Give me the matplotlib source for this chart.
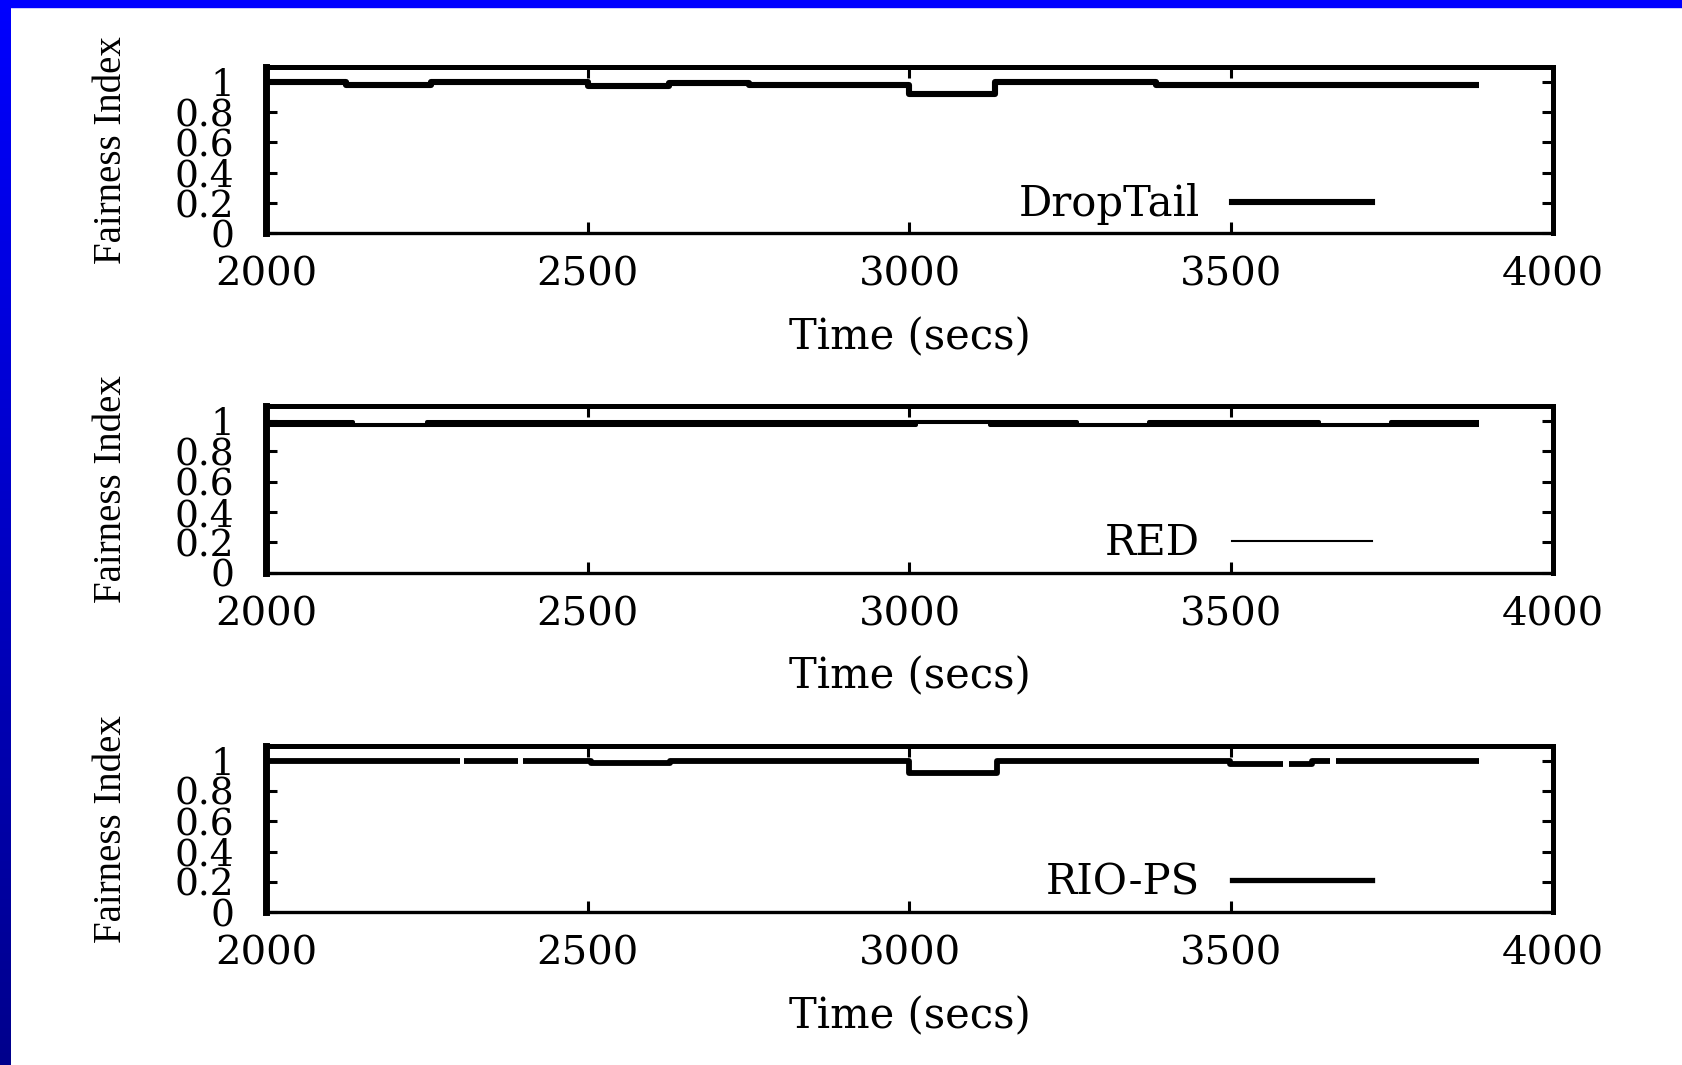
"""Fairness index over time for DropTail, RED and RIO-PS (three stacked panels)."""
import matplotlib

matplotlib.use("Agg")
import matplotlib.pyplot as plt
import numpy as np
from matplotlib.colors import LinearSegmentedColormap
from matplotlib.lines import Line2D
from matplotlib.patches import Rectangle

TIME_TICKS = [2000, 2500, 3000, 3500, 4000]
FAIR_TICKS = [0, 0.2, 0.4, 0.6, 0.8, 1]
FAIR_LABELS = ["0", "0.2", "0.4", "0.6", "0.8", "1"]

# step series: value i holds from edge i to edge i+1
DT_EDGES = [2000, 2125, 2257, 2500, 2627, 2750, 3000, 3133, 3383, 3885]
DT_VALS = [1.0, 0.98, 1.0, 0.975, 0.995, 0.982, 0.917, 1.0, 0.977]

# RED wobbles inside a narrow band -> low / high envelope
RED_EDGES = [2000, 2135, 2250, 3010, 3125, 3260, 3372, 3636, 3748, 3885]
RED_LO = [0.972, 0.973, 0.972, 0.997, 0.972, 0.973, 0.972, 0.973, 0.972]
RED_HI = [0.993, 0.973, 0.993, 0.997, 0.993, 0.973, 0.993, 0.973, 0.993]

RIO_EDGES = [2000, 2302, 2307, 2392, 2400, 2505, 2628, 3000, 3136,
             3498, 3581, 3590, 3625, 3654, 3663, 3885]
RIO_VALS = [1.0, np.nan, 1.0, np.nan, 1.0, 0.985, 1.0, 0.917, 1.0,
            0.98, np.nan, 0.98, 0.995, np.nan, 1.0]

W, H = 1683, 1065
AX_LEFT, AX_RIGHT = 266, 1553          # px
AX_TOPS = [66.7, 406.0, 745.5]         # px from top
AX_H = 166.6


def steps(edges, vals):
    x = np.repeat(np.asarray(edges, float), 2)[1:-1]
    y = np.repeat(np.asarray(vals, float), 2)
    return x, y


plt.rcParams["font.family"] = ["DejaVu Serif"]
fig = plt.figure(figsize=(W / 100, H / 100), dpi=100, facecolor="white")

# blue slide frame: gradient bar on the left, flat band on top
band = fig.add_axes([0, 0, 11 / W, 1])
band.imshow(np.linspace(0, 1, 256).reshape(-1, 1), aspect="auto",
            cmap=LinearSegmentedColormap.from_list("frame", ["#0000ff", "#00008c"]))
band.axis("off")
fig.add_artist(Rectangle((0, 1 - 7 / H), 1, 7 / H, transform=fig.transFigure,
                         color="#0000ff", zorder=5))

axes = [fig.add_axes([AX_LEFT / W, 1 - (t + AX_H) / H, (AX_RIGHT - AX_LEFT) / W, AX_H / H])
        for t in AX_TOPS]

axes[0].plot(*steps(DT_EDGES, DT_VALS), color="black", lw=4.4, solid_capstyle="butt")
axes[1].plot(*steps(RED_EDGES, RED_LO), color="black", lw=2.9, solid_capstyle="butt")
axes[1].plot(*steps(RED_EDGES, RED_HI), color="black", lw=2.9, solid_capstyle="butt")
axes[2].plot(*steps(RIO_EDGES, RIO_VALS), color="black", lw=4.2, solid_capstyle="butt")

for ax, name, lw in zip(axes, ["DropTail", "RED", "RIO-PS"], [4.4, 1.5, 3.8]):
    ax.set_xlim(2000, 4000)
    ax.set_ylim(0, 1.1)
    ax.set_xticks(TIME_TICKS)
    ax.set_yticks(FAIR_TICKS)
    ax.set_yticklabels(FAIR_LABELS)
    ax.tick_params(direction="in", top=True, right=True, length=8, width=2.2,
                   colors="black")
    ax.tick_params(axis="x", pad=17, labelsize=29)
    ax.tick_params(axis="y", pad=23, labelsize=27)
    ax.set_xlabel("Time (secs)", fontsize=30, labelpad=16)
    ax.set_ylabel("Fairness Index", fontsize=28, family="Liberation Serif")
    ax.yaxis.set_label_coords(-0.106, 0.5)
    for s, w in (("left", 5), ("right", 3.6), ("top", 3.6), ("bottom", 2.4)):
        ax.spines[s].set_linewidth(w)
    ax.legend(handles=[Line2D([], [], color="black", lw=lw)], labels=[name],
              loc="center right", bbox_to_anchor=(0.8594, 0.175), markerfirst=False,
              frameon=False, fontsize=30, handlelength=3.36, handletextpad=0.77,
              borderpad=0, borderaxespad=0)

fig.savefig("out.png", dpi=100, facecolor="white")
